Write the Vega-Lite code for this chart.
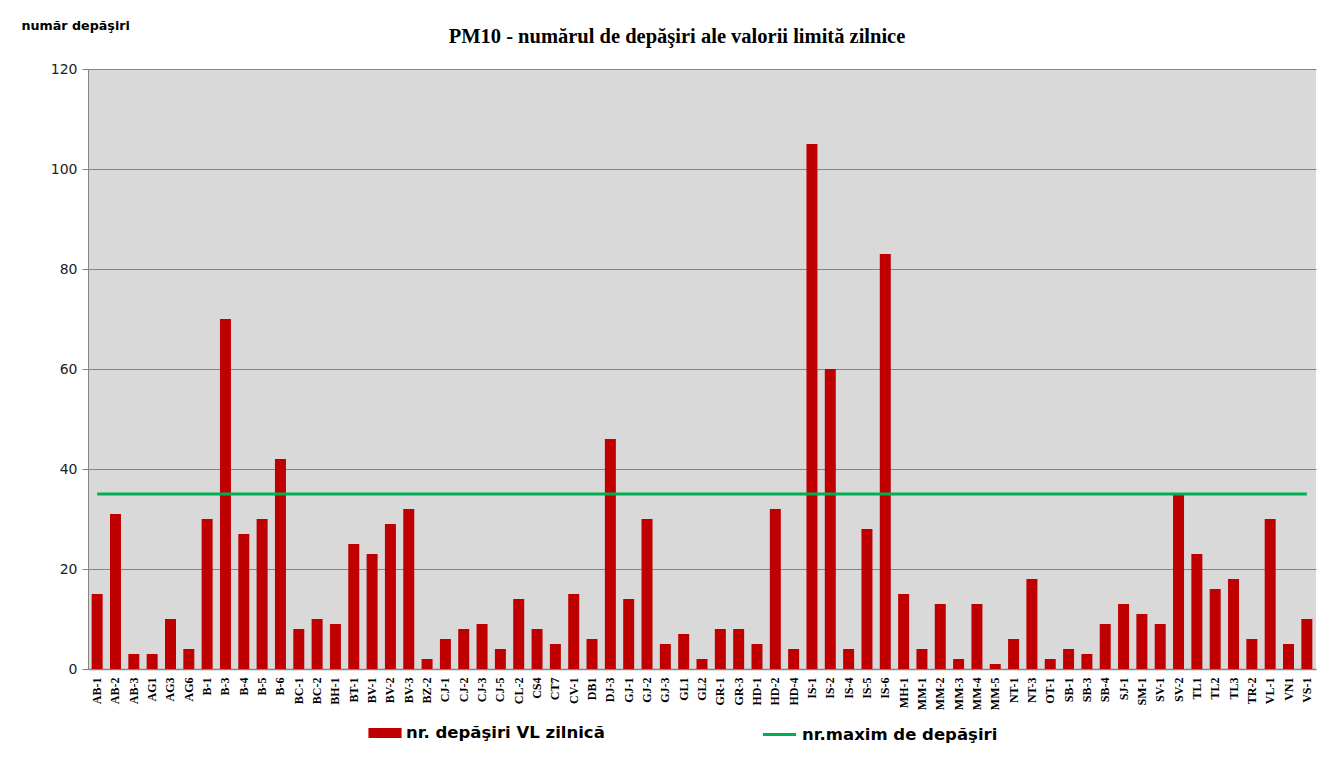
{
  "$schema": "https://vega.github.io/schema/vega-lite/v6.json",
  "width": 1228,
  "height": 600,
  "autosize": {"type": "none"},
  "padding": {"left": 88, "top": 69, "right": 23, "bottom": 103},
  "background": "white",
  "title": {
    "text": "PM10 - numărul  de depăşiri ale valorii limită  zilnice",
    "font": "Liberation Serif",
    "fontSize": 20.5,
    "fontWeight": "bold",
    "color": "black",
    "anchor": "middle",
    "frame": "group",
    "dx": -25,
    "offset": -28
  },
  "data": {
    "values": [
      {"statie": "AB-1", "nr": 15}, {"statie": "AB-2", "nr": 31}, {"statie": "AB-3", "nr": 3},
      {"statie": "AG1", "nr": 3}, {"statie": "AG3", "nr": 10}, {"statie": "AG6", "nr": 4},
      {"statie": "B-1", "nr": 30}, {"statie": "B-3", "nr": 70}, {"statie": "B-4", "nr": 27},
      {"statie": "B-5", "nr": 30}, {"statie": "B-6", "nr": 42}, {"statie": "BC-1", "nr": 8},
      {"statie": "BC-2", "nr": 10}, {"statie": "BH-1", "nr": 9}, {"statie": "BT-1", "nr": 25},
      {"statie": "BV-1", "nr": 23}, {"statie": "BV-2", "nr": 29}, {"statie": "BV-3", "nr": 32},
      {"statie": "BZ-2", "nr": 2}, {"statie": "CJ-1", "nr": 6}, {"statie": "CJ-2", "nr": 8},
      {"statie": "CJ-3", "nr": 9}, {"statie": "CJ-5", "nr": 4}, {"statie": "CL-2", "nr": 14},
      {"statie": "CS4", "nr": 8}, {"statie": "CT7", "nr": 5}, {"statie": "CV-1", "nr": 15},
      {"statie": "DB1", "nr": 6}, {"statie": "DJ-3", "nr": 46}, {"statie": "GJ-1", "nr": 14},
      {"statie": "GJ-2", "nr": 30}, {"statie": "GJ-3", "nr": 5}, {"statie": "GL1", "nr": 7},
      {"statie": "GL2", "nr": 2}, {"statie": "GR-1", "nr": 8}, {"statie": "GR-3", "nr": 8},
      {"statie": "HD-1", "nr": 5}, {"statie": "HD-2", "nr": 32}, {"statie": "HD-4", "nr": 4},
      {"statie": "IS-1", "nr": 105}, {"statie": "IS-2", "nr": 60}, {"statie": "IS-4", "nr": 4},
      {"statie": "IS-5", "nr": 28}, {"statie": "IS-6", "nr": 83}, {"statie": "MH-1", "nr": 15},
      {"statie": "MM-1", "nr": 4}, {"statie": "MM-2", "nr": 13}, {"statie": "MM-3", "nr": 2},
      {"statie": "MM-4", "nr": 13}, {"statie": "MM-5", "nr": 1}, {"statie": "NT-1", "nr": 6},
      {"statie": "NT-3", "nr": 18}, {"statie": "OT-1", "nr": 2}, {"statie": "SB-1", "nr": 4},
      {"statie": "SB-3", "nr": 3}, {"statie": "SB-4", "nr": 9}, {"statie": "SJ-1", "nr": 13},
      {"statie": "SM-1", "nr": 11}, {"statie": "SV-1", "nr": 9}, {"statie": "SV-2", "nr": 35},
      {"statie": "TL1", "nr": 23}, {"statie": "TL2", "nr": 16}, {"statie": "TL3", "nr": 18},
      {"statie": "TR-2", "nr": 6}, {"statie": "VL-1", "nr": 30}, {"statie": "VN1", "nr": 5},
      {"statie": "VS-1", "nr": 10}
    ]
  },
  "encoding": {
    "x": {
      "field": "statie",
      "type": "nominal",
      "sort": null,
      "scale": {"paddingInner": 0.4, "paddingOuter": 0.2},
      "axis": {
        "title": null,
        "labelAngle": -90,
        "labelFont": "Liberation Serif",
        "labelFontWeight": "bold",
        "labelFontSize": 12,
        "labelColor": "black",
        "labelPadding": 8,
        "ticks": false,
        "domainColor": "#868686",
        "domainWidth": 1.5,
        "grid": false
      }
    }
  },
  "layer": [
    {
      "mark": {"type": "bar"},
      "encoding": {
        "y": {
          "field": "nr",
          "type": "quantitative",
          "scale": {"domain": [0, 120]},
          "axis": {
            "values": [0, 20, 40, 60, 80, 100, 120],
            "title": "număr depăşiri",
            "titleAngle": 0,
            "titleX": -67,
            "titleY": -44,
            "titleAlign": "left",
            "titleBaseline": "middle",
            "titleFont": "DejaVu Sans",
            "titleFontSize": 12.7,
            "titleFontWeight": "bold",
            "titleColor": "black",
            "labelFont": "DejaVu Sans",
            "labelFontSize": 14,
            "labelColor": "#222222",
            "labelPadding": 5,
            "tickSize": 6,
            "tickColor": "#868686",
            "domainColor": "#868686",
            "gridColor": "#868686",
            "gridWidth": 1
          }
        },
        "fill": {
          "datum": "nr. depăşiri  VL zilnică",
          "type": "nominal",
          "scale": {"range": ["#C00000"]},
          "legend": {
            "title": null,
            "orient": "none",
            "legendX": 280,
            "legendY": 647,
            "symbolType": "M-1,-0.3H1V0.3H-1Z",
            "symbolSize": 1100,
            "symbolStrokeWidth": 0,
            "labelFont": "DejaVu Sans",
            "labelFontSize": 16.5,
            "labelFontWeight": "bold",
            "labelColor": "black",
            "labelOffset": 4,
            "labelLimit": 500
          }
        }
      }
    },
    {
      "mark": {"type": "line", "strokeWidth": 3},
      "encoding": {
        "y": {"datum": 35, "type": "quantitative"},
        "stroke": {
          "datum": "nr.maxim de depăşiri",
          "type": "nominal",
          "scale": {"range": ["#00B050"]},
          "legend": {
            "title": null,
            "orient": "none",
            "legendX": 673,
            "legendY": 647,
            "symbolType": "stroke",
            "symbolSize": 1100,
            "symbolStrokeWidth": 3,
            "labelFont": "DejaVu Sans",
            "labelFontSize": 16.5,
            "labelFontWeight": "bold",
            "labelColor": "black",
            "labelOffset": 4,
            "labelLimit": 500
          }
        }
      }
    }
  ],
  "config": {
    "view": {"fill": "#D9D9D9", "stroke": null}
  }
}
